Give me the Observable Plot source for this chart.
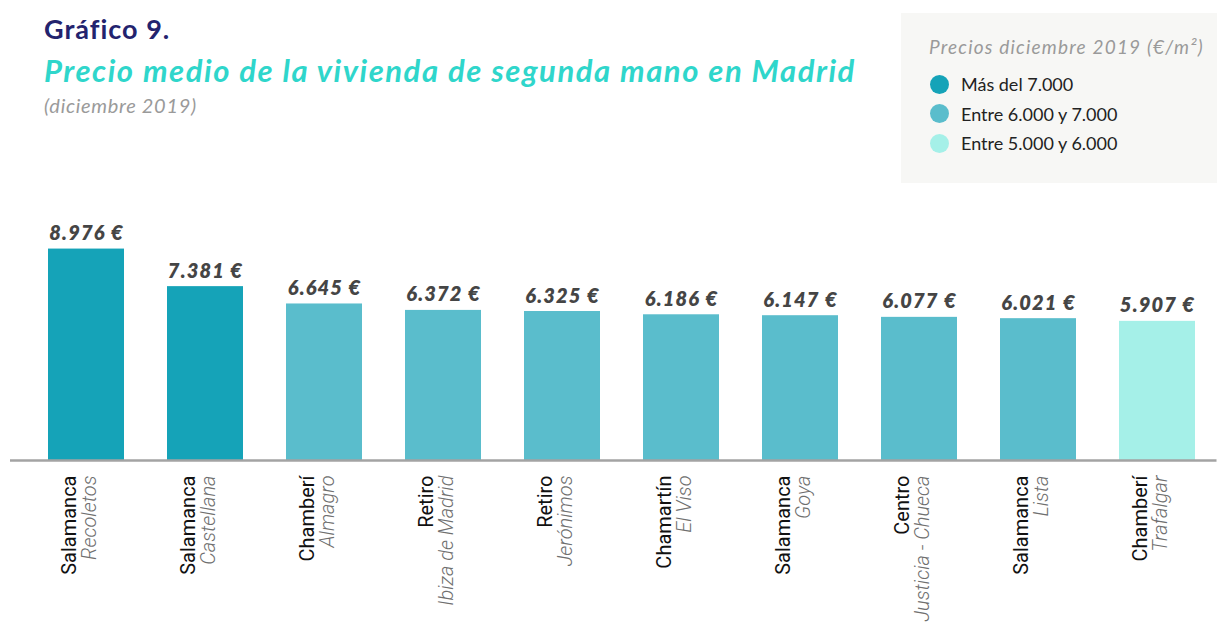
<!DOCTYPE html>
<html>
<head>
<meta charset="utf-8">
<script src="https://cdn.jsdelivr.net/npm/d3@7"></script>
<script src="https://cdn.jsdelivr.net/npm/@observablehq/plot@0.6"></script>
<style>
  html, body { margin: 0; padding: 0; background: #fff; }
  body { width: 1217px; height: 626px; position: relative; overflow: hidden; font-family: Lato, "Open Sans", sans-serif; }
  #header { position: relative; height: 190px; }
  #g { position: absolute; left: 44px; top: 12px; font: 700 27px Lato, sans-serif; color: #23236e; letter-spacing: 1px; }
  #t { position: absolute; left: 44px; top: 51px; font: italic 700 31px Lato, sans-serif; color: #2fd6cb; letter-spacing: 1.55px; white-space: nowrap; }
  #s { position: absolute; left: 44px; top: 93px; font: italic 400 20px Lato, sans-serif; color: #9a9a9a; letter-spacing: 0.7px; }
  #legend { position: absolute; left: 901px; top: 13px; width: 316px; height: 170px; background: #f7f7f5; }
  #legend .lt { position: absolute; left: 28px; top: 22px; font: italic 400 19px Lato, sans-serif; color: #9a9a9a; white-space: nowrap; letter-spacing: 1.2px; }
  #legend .it { position: absolute; left: 29px; font: 400 18px Lato, sans-serif; color: #222; white-space: nowrap; display: flex; align-items: center; }
  #legend .it span.dot { display: inline-block; width: 19px; height: 19px; border-radius: 50%; margin-right: 12px; }
  #chart svg { display: block; overflow: visible; }
</style>
</head>
<body>
<div id="header">
  <div id="g">Gráfico 9.</div>
  <div id="t">Precio medio de la vivienda de segunda mano en Madrid</div>
  <div id="s">(diciembre 2019)</div>
  <div id="legend"></div>
</div>
<div id="chart"></div>
<script>
const distritos = ["Salamanca", "Salamanca", "Chamberí", "Retiro", "Retiro", "Chamartín", "Salamanca", "Centro", "Salamanca", "Chamberí"];
const barrios = ["Recoletos", "Castellana", "Almagro", "Ibiza de Madrid", "Jerónimos", "El Viso", "Goya", "Justicia - Chueca", "Lista", "Trafalgar"];
const precios = [8976, 7381, 6645, 6372, 6325, 6186, 6147, 6077, 6021, 5907];
const tramos = ["Más del 7.000", "Más del 7.000", "Entre 6.000 y 7.000", "Entre 6.000 y 7.000", "Entre 6.000 y 7.000", "Entre 6.000 y 7.000", "Entre 6.000 y 7.000", "Entre 6.000 y 7.000", "Entre 6.000 y 7.000", "Entre 5.000 y 6.000"];
const tramosLeyenda = ["Más del 7.000", "Entre 6.000 y 7.000", "Entre 5.000 y 6.000"];
const coloresTramos = ["#15a3b8", "#5abdcc", "#a5f0e8"];
const tituloLeyenda = "Precios diciembre 2019 (€/m²)";

const data = barrios.map((b, i) => ({
  key: distritos[i] + "|" + b,
  distrito: distritos[i],
  barrio: b,
  precio: precios[i],
  tramo: tramos[i]
}));

const fmt = v => d3.format(",")(v).replace(/,/g, ".") + " €";

// Legend
const legend = document.getElementById("legend");
const lt = document.createElement("div");
lt.className = "lt";
lt.textContent = tituloLeyenda;
legend.appendChild(lt);
tramosLeyenda.forEach((t, i) => {
  const it = document.createElement("div");
  it.className = "it";
  it.style.top = (60 + i * 29.5) + "px";
  const dot = document.createElement("span");
  dot.className = "dot";
  dot.style.background = coloresTramos[i];
  it.appendChild(dot);
  it.appendChild(document.createTextNode(t));
  legend.appendChild(it);
});

const chart = Plot.plot({
  width: 1217,
  height: 436,
  marginTop: 58,
  marginBottom: 166,
  marginLeft: 26.5,
  marginRight: 0.5,
  x: { domain: data.map(d => d.key), paddingInner: 0.36, paddingOuter: 0.18, axis: null },
  y: { domain: [0, 9000], axis: null },
  color: { domain: tramosLeyenda, range: coloresTramos },
  style: { fontFamily: "Lato, sans-serif", background: "transparent", overflow: "visible" },
  marks: [
    Plot.barY(data, { x: "key", y: "precio", fill: "tramo" }),
    Plot.ruleY([0], { stroke: "#a3a3a3", strokeWidth: 2.5, insetLeft: -16.5 }),
    Plot.text(data, {
      x: "key", y: "precio", text: d => fmt(d.precio),
      lineAnchor: "bottom", dy: -9,
      fontSize: 20, fontWeight: 800, fontStyle: "italic", fill: "#454545"
    }),
    Plot.text(data, {
      x: "key", text: "distrito", frameAnchor: "bottom", rotate: -90, textAnchor: "end",
      dy: 15, dx: -11, fontSize: 20, fill: "#111",
      fontFamily: "Roboto, sans-serif", fontWeight: 400
    }),
    Plot.text(data, {
      x: "key", text: "barrio", frameAnchor: "bottom", rotate: -90, textAnchor: "end",
      dy: 15, dx: 9, fontSize: 20, fill: "#6f6f6f", fontStyle: "italic",
      fontFamily: "Roboto, sans-serif", fontWeight: 300
    })
  ]
});
document.getElementById("chart").appendChild(chart);
// widen the value labels a little, like the reference's wide italic face
const textGroups = chart.querySelectorAll("g[aria-label='text']");
if (textGroups.length) textGroups[0].setAttribute("letter-spacing", "1.2");
</script>
</body>
</html>
